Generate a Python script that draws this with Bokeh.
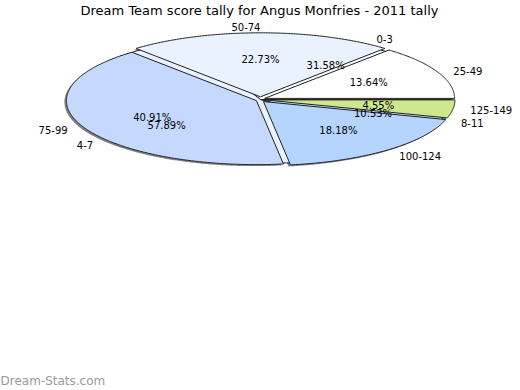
import numpy as np
from bokeh.plotting import figure
from bokeh.models import Range1d
from bokeh.core.properties import value
from bokeh.embed import file_html
from bokeh.resources import INLINE

title = "Dream Team score tally for Angus Monfries - 2011 tally"
score_labels = ["25-49", "50-74", "75-99", "100-124", "125-149"]
score_pct = [13.64, 22.73, 40.91, 18.18, 4.55]
tally_labels = ["0-3", "4-7", "8-11"]
tally_pct = [31.58, 57.89, 10.53]
colors = ["#ffffff", "#eaf1ff", "#c5d9ff", "#b5d5ff", "#cde88c"]
watermark = "Dream-Stats.com"

CX, CY, RX, RY = 260.0, 99.0, 190.0, 64.0
EXPLODE = 4.5
FONT = "DejaVu Sans"

p = figure(width=520, height=390, x_range=Range1d(0, 520), y_range=Range1d(390, 0),
           output_backend="svg", toolbar_location=None, min_border=0)
p.axis.visible = False
p.xgrid.visible = False
p.ygrid.visible = False
p.outline_line_color = None
p.background_fill_color = "white"


def slices(pcts, explode, dx=0.0, dy=0.0):
    xs, ys, mids = [], [], []
    start = 0.0
    total = sum(pcts)
    for v in pcts:
        span = v / total * 360.0
        end = start + span
        mid = np.radians(start + span / 2)
        ox = explode * np.cos(mid)
        oy = -explode * np.sin(mid) * 0.6
        t = np.radians(np.linspace(start, end, max(4, int(span * 2))))
        px = [CX + ox + dx] + list(CX + ox + dx + RX * np.cos(t))
        py = [CY + oy + dy] + list(CY + oy + dy - RY * np.sin(t))
        xs.append(px)
        ys.append(py)
        mids.append(start + span / 2)
        start = end
    return xs, ys, mids


# shadow
sx, sy, _ = slices(score_pct, EXPLODE, dx=-2.0, dy=1.5)
p.patches(sx, sy, fill_color="#6a6a6a", line_color=None, fill_alpha=0.85)

# underlying tally pie
tx, ty, tmid = slices(tally_pct, 0.0)
p.patches(tx, ty, fill_color=colors[:len(tally_pct)], line_color="#222222", line_width=1)

# score pie
xs, ys, smid = slices(score_pct, EXPLODE)
p.patches(xs, ys, fill_color=colors[:len(score_pct)], line_color="#222222", line_width=1)


def add_labels(labels, pcts, mids):
    lx, ly, la, px_, py_, pt = [], [], [], [], [], []
    for lab, v, m in zip(labels, pcts, mids):
        r = np.radians(m)
        c, s = np.cos(r), np.sin(r)
        lx.append(CX + 212 * c)
        ly.append(100 - 75 * s + (1.5 if s > 0 else -1.5))
        la.append("left" if c > 0.001 else "right")
        px_.append(CX + 119 * c)
        py_.append(99.5 - 41 * s)
        pt.append("%.2f%%" % v)
    p.text(x=lx, y=ly, text=labels, text_align=la, text_baseline="middle",
           text_font=value(FONT), text_font_size="10px", text_color="#000000")
    p.text(x=px_, y=py_, text=pt, text_align="center", text_baseline="middle",
           text_font=value(FONT), text_font_size="10px", text_color="#000000")


add_labels(score_labels, score_pct, smid)
add_labels(tally_labels, tally_pct, tmid)

p.text(x=[259], y=[10], text=[title], text_align="center", text_baseline="middle",
       text_font=value(FONT), text_font_size="13px", text_color="#000000")
p.text(x=[0], y=[380], text=[watermark], text_align="left", text_baseline="middle",
       text_font=value(FONT), text_font_size="12px", text_color="#9a9a9a")

open("out.html", "w").write(file_html(p, INLINE))
